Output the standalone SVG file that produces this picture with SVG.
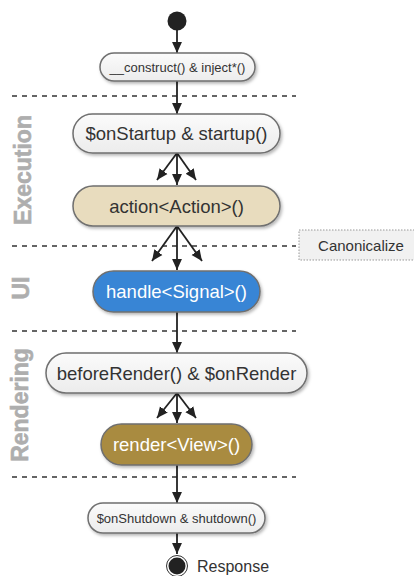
<svg xmlns="http://www.w3.org/2000/svg" width="414" height="576" viewBox="0 0 414 576">
  <defs>
    <linearGradient id="gLight" x1="0" y1="0" x2="0" y2="1">
      <stop offset="0" stop-color="#fbfbfb"/>
      <stop offset="1" stop-color="#ececec"/>
    </linearGradient>
    <filter id="shadow" x="-10%" y="-20%" width="125%" height="160%">
      <feDropShadow dx="1.5" dy="2" stdDeviation="1.5" flood-color="#000" flood-opacity="0.28"/>
    </filter>
    <marker id="arrow" viewBox="0 0 10 10" refX="10" refY="5" markerWidth="11" markerHeight="11" markerUnits="userSpaceOnUse" orient="auto">
      <path d="M0,0.5 L10,5 L0,9.5 Z" fill="#222"/>
    </marker>
  </defs>
  <style>
    .node { stroke: #6f6f6f; stroke-width: 1.5; filter: url(#shadow); }
    .plain { fill: url(#gLight); }
    .txt { font-family: "Liberation Sans", Arial, sans-serif; fill: #333; text-anchor: middle; }
    .big { font-size: 18.5px; }
    .small { font-size: 13px; }
    .white { fill: #fff; }
    .lane { font-family: "Liberation Sans", Arial, sans-serif; font-weight: bold; font-size: 23px; fill: #aeaeae; stroke: #aeaeae; stroke-width: 0.6; text-anchor: middle; }
    .sep { stroke: #333; stroke-width: 1.5; stroke-dasharray: 5 5; fill: none; }
    .edge { stroke: #222; stroke-width: 1.8; fill: none; marker-end: url(#arrow); }
  </style>

  <!-- swimlane separators -->
  <g id="separators">
    <line class="sep" x1="12" y1="96" x2="296" y2="96"/>
    <line class="sep" x1="12" y1="246" x2="296" y2="246"/>
    <line class="sep" x1="12" y1="331" x2="296" y2="331"/>
    <line class="sep" x1="12" y1="477" x2="296" y2="477"/>
  </g>

  <!-- lane titles -->
  <g id="lanes">
    <text class="lane" transform="translate(31,170) rotate(-90)">Execution</text>
    <text class="lane" transform="translate(29,288) rotate(-90)">UI</text>
    <text class="lane" transform="translate(28,405) rotate(-90)">Rendering</text>
  </g>

  <!-- connectors -->
  <g id="connectors">
    <line class="edge" x1="177" y1="30" x2="177" y2="53"/>
    <line class="edge" x1="177" y1="81" x2="177" y2="114"/>
    <line class="edge" x1="177" y1="153" x2="157" y2="180"/>
    <line class="edge" x1="177" y1="153" x2="177" y2="185"/>
    <line class="edge" x1="177" y1="153" x2="196" y2="180"/>
    <line class="edge" x1="177" y1="226" x2="152" y2="261"/>
    <line class="edge" x1="177" y1="226" x2="177" y2="270"/>
    <line class="edge" x1="177" y1="226" x2="202" y2="261"/>
    <line class="edge" x1="177" y1="312" x2="177" y2="353"/>
    <line class="edge" x1="177" y1="393" x2="157" y2="418"/>
    <line class="edge" x1="177" y1="393" x2="177" y2="423"/>
    <line class="edge" x1="177" y1="393" x2="196" y2="418"/>
    <line class="edge" x1="177" y1="465" x2="177" y2="503"/>
    <line class="edge" x1="177" y1="533" x2="177" y2="554"/>
  </g>

  <!-- start -->
  <g id="start">
    <circle cx="177" cy="21" r="9.5" fill="#222"/>
  </g>

  <g id="construct">
    <rect class="node plain" x="100" y="53" width="155" height="28" rx="14"/>
    <text class="txt small" x="177.5" y="72">__construct() &amp; inject*()</text>
  </g>

  <g id="startup">
    <rect class="node plain" x="73" y="114" width="207" height="39" rx="19.5"/>
    <text class="txt big" x="176.5" y="140">$onStartup &amp; startup()</text>
  </g>

  <g id="action">
    <rect class="node" x="73" y="186" width="207" height="40" rx="20" fill="#e8dcbe"/>
    <text class="txt big" x="176.5" y="213">action&lt;Action&gt;()</text>
  </g>

  <g id="canonicalize">
    <rect x="299" y="230" width="120" height="30" fill="#f1f1f1" stroke="#999" stroke-width="1" stroke-dasharray="1.5 1.5"/>
    <text class="txt" x="361" y="251" font-size="15">Canonicalize</text>
  </g>

  <g id="handle">
    <rect class="node" x="93" y="271" width="167" height="41" rx="20.5" fill="#3985d5"/>
    <text class="txt big white" x="176.5" y="298">handle&lt;Signal&gt;()</text>
  </g>

  <g id="beforeRender">
    <rect class="node plain" x="46" y="353" width="261" height="40" rx="20"/>
    <text class="txt big" x="176.5" y="380">beforeRender() &amp; $onRender</text>
  </g>

  <g id="render">
    <rect class="node" x="101" y="424" width="151" height="41" rx="20.5" fill="#a98b40"/>
    <text class="txt big white" x="176.5" y="451">render&lt;View&gt;()</text>
  </g>

  <g id="shutdown">
    <rect class="node plain" x="88" y="503" width="177" height="30" rx="15"/>
    <text class="txt small" x="176.5" y="523">$onShutdown &amp; shutdown()</text>
  </g>

  <!-- end -->
  <g id="end">
    <circle cx="177" cy="566" r="10.5" fill="#fff" stroke="#333" stroke-width="1"/>
    <circle cx="177" cy="566" r="8.5" fill="#222"/>
    <text class="txt" x="197" y="572" font-size="16" style="text-anchor:start">Response</text>
  </g>
</svg>
